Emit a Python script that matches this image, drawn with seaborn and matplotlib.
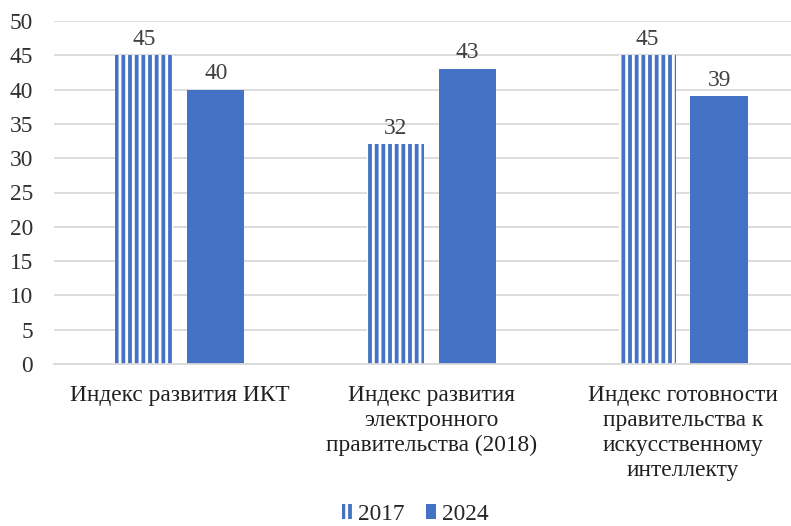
import matplotlib
matplotlib.use("Agg")
import matplotlib.pyplot as plt
import matplotlib.patches as mpatches
import seaborn as sns
import pandas as pd

categories = [
    "Индекс развития ИКТ",
    "Индекс развития\nэлектронного\nправительства (2018)",
    "Индекс готовности\nправительства к\nискусственному\nинтеллекту",
]
years = ["2017", "2024"]
values_2017 = [45, 32, 45]
values_2024 = [40, 43, 39]
y_ticks = [0, 5, 10, 15, 20, 25, 30, 35, 40, 45, 50]

BLUE = "#4472C4"
GRID = "#D9D9D9"
FS = 21

df = pd.DataFrame({
    "category": categories * 2,
    "year": [years[0]] * 3 + [years[1]] * 3,
    "value": values_2017 + values_2024,
})

sns.set_theme(style="white")
plt.rcParams["font.family"] = ["Liberation Serif", "DejaVu Serif"]
plt.rcParams["hatch.linewidth"] = 3.4
plt.rcParams["hatch.color"] = BLUE

DPI = 80
fig = plt.figure(figsize=(791 / DPI, 526 / DPI), dpi=DPI)
ax = fig.add_axes([54 / 791, 1 - 364 / 526, (809 - 54) / 791, (364 - 21) / 526])

sns.barplot(data=df, x="category", y="value", hue="year",
            palette=[BLUE, BLUE], width=0.57, gap=0.2,
            ax=ax, legend=False, saturation=1)

# 2017 bars: white fill with vertical blue stripes
for bar in ax.containers[0]:
    bar.set_facecolor("white")
    bar.set_edgecolor(BLUE)
    bar.set_linewidth(0)
    bar.set_hatch("||")
for bar in ax.containers[1]:
    bar.set_linewidth(0)

for cont in ax.containers:
    ax.bar_label(cont, labels=[f"{v:g}" for v in cont.datavalues],
                 padding=5, fontsize=FS, color="#404040")

ax.set_xlim(-0.5, 2.5)
ax.set_ylim(0, 50)
ax.set_yticks(y_ticks)
ax.set_yticklabels([str(t) for t in y_ticks])
ax.yaxis.grid(True, color=GRID, linewidth=1.6)
ax.set_axisbelow(True)
for side in ["left", "right", "top"]:
    ax.spines[side].set_visible(False)
ax.spines["bottom"].set_color(GRID)
ax.spines["bottom"].set_linewidth(1.6)
ax.tick_params(axis="y", length=0, pad=19, labelsize=FS, labelcolor="#303030")
ax.tick_params(axis="x", length=0, pad=19, labelsize=FS, labelcolor="#202020")
ax.set_xlabel("")
ax.set_ylabel("")
for lbl in ax.get_xticklabels():
    lbl.set_linespacing(1.24)
for t in ax.texts:
    t.set_clip_on(False)

h2017 = mpatches.Patch(facecolor="white", edgecolor=BLUE, linewidth=0, hatch="||")
h2024 = mpatches.Patch(facecolor=BLUE, edgecolor=BLUE, linewidth=0)
fig.legend([h2017, h2024], years, loc="center", bbox_to_anchor=(0.525, 1 - 514 / 526),
           ncol=2, frameon=False, fontsize=FS, handlelength=0.45, handleheight=0.6,
           handletextpad=0.25, columnspacing=0.9)

fig.savefig("out.png", dpi=DPI)
